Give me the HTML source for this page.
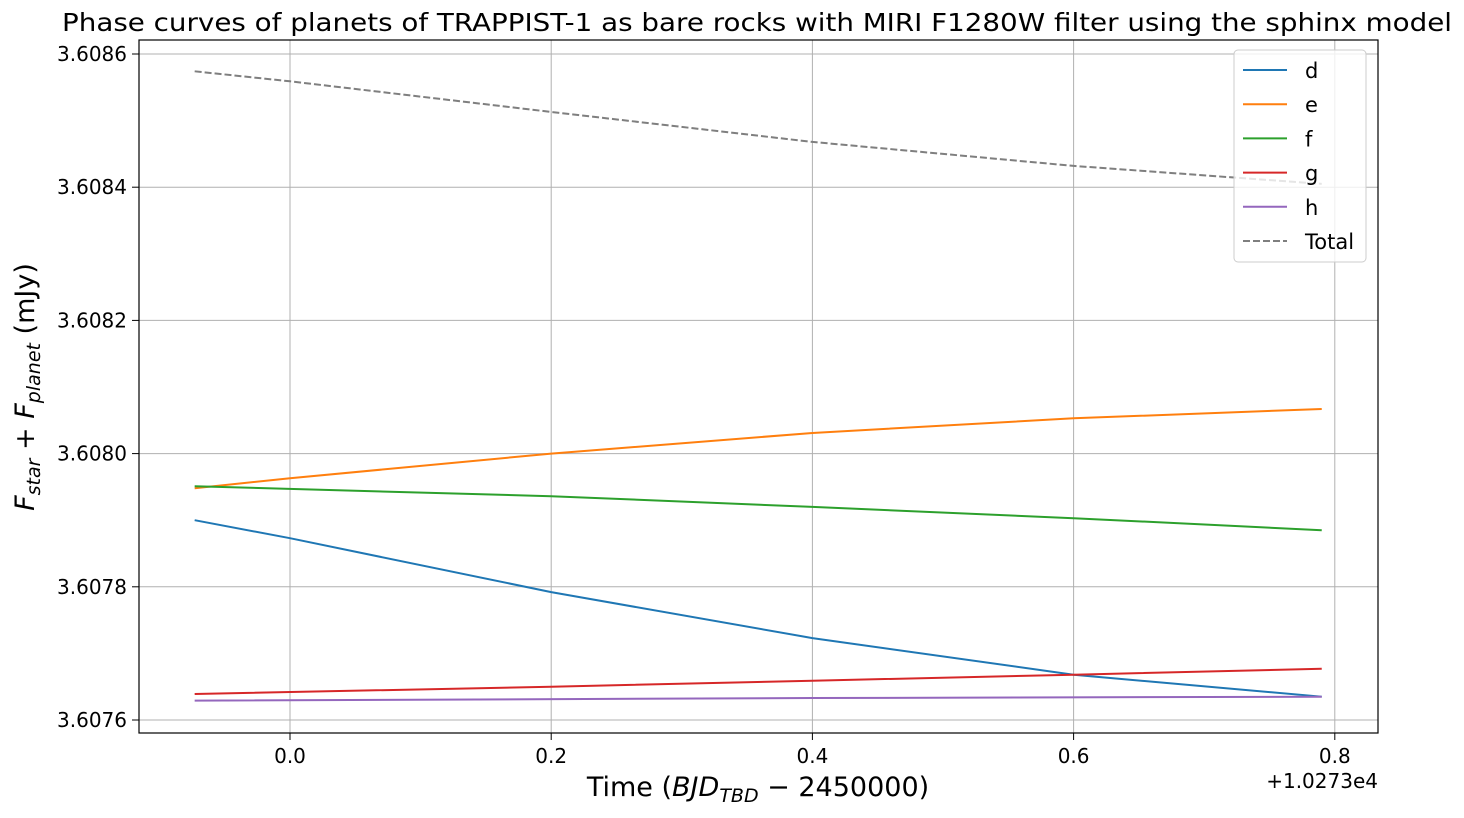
<!DOCTYPE html>
<html><head><meta charset="utf-8"><style>
body{margin:0;background:#fff;}
svg{font-family:"DejaVu Sans","Liberation Sans",sans-serif;}
</style></head><body>
<svg id="chart" width="1464" height="813">
<text x="62" y="31" font-size="25" textLength="1390" lengthAdjust="spacingAndGlyphs">Phase curves of planets of TRAPPIST-1 as bare rocks with MIRI F1280W filter using the sphinx model</text>
<g id="grid"></g><g id="series"></g>
<rect x="139" y="40" width="1239" height="693" fill="none" stroke="#000" stroke-width="1.2"/>
<g id="ticks"></g>
<text x="758" y="796" font-size="27" text-anchor="middle">Time (<tspan font-style="italic">BJD</tspan><tspan font-style="italic" font-size="19" dy="6">TBD</tspan><tspan dy="-6"> − 2450000)</tspan></text>
<text x="1378" y="788" font-size="20" text-anchor="end">+1.0273e4</text>
<text transform="translate(34,387) rotate(-90)" font-size="27" text-anchor="middle"><tspan font-style="italic">F</tspan><tspan font-style="italic" font-size="19" dy="6">star</tspan><tspan dy="-6"> + </tspan><tspan font-style="italic">F</tspan><tspan font-style="italic" font-size="19" dy="6">planet</tspan><tspan dy="-6"> (mJy)</tspan></text>
<g id="legend"></g>
</svg>
<script>
const xTicks=[0.0,0.2,0.4,0.6,0.8];
const xTickLabels=["0.0","0.2","0.4","0.6","0.8"];
const yTicks=[3.6076,3.6078,3.6080,3.6082,3.6084,3.6086];
const yTickLabels=["3.6076","3.6078","3.6080","3.6082","3.6084","3.6086"];
const seriesNames=["d","e","f","g","h","Total"];
const seriesColors=["#1f77b4","#ff7f0e","#2ca02c","#d62728","#9467bd","#7f7f7f"];
const tD=[-0.073,0.0,0.2,0.4,0.6,0.79];
const vD=[3.607900,3.607873,3.607792,3.607723,3.607668,3.607635];
const tE=[-0.073,0.0,0.2,0.4,0.6,0.79];
const vE=[3.607948,3.607963,3.608000,3.608031,3.608053,3.608067];
const tF=[-0.073,0.2,0.4,0.6,0.79];
const vF=[3.607951,3.607936,3.607920,3.607903,3.607885];
const tG=[-0.073,0.2,0.4,0.6,0.79];
const vG=[3.607639,3.607650,3.607659,3.607668,3.607677];
const tH=[-0.073,0.4,0.79];
const vH=[3.607629,3.607633,3.607635];
const tT=[-0.073,0.0,0.2,0.4,0.6,0.79];
const vT=[3.608574,3.608559,3.608513,3.608468,3.608432,3.608405];
const NS="http://www.w3.org/2000/svg";
function X(t){return 290+t*1306;}
function Y(v){return 720-(v-3.6076)/0.0002*133.2;}
function mk(tag,attrs,parent){const e=document.createElementNS(NS,tag);for(const k in attrs)e.setAttribute(k,attrs[k]);parent.appendChild(e);return e;}
const grid=document.getElementById('grid'),ticks=document.getElementById('ticks'),ser=document.getElementById('series'),leg=document.getElementById('legend');
xTicks.forEach((t,i)=>{
 const g=mk('line',{x1:X(t),x2:X(t),y1:40,y2:733,stroke:'#b0b0b0','stroke-width':1},grid);
 
 
 mk('line',{x1:X(t),x2:X(t),y1:733,y2:740,stroke:'#000'},ticks);
 const l=mk('text',{x:X(t),y:763,'font-size':20,'text-anchor':'middle'},ticks);l.textContent=xTickLabels[i];
 
 
});
yTicks.forEach((v,i)=>{
 const g=mk('line',{x1:139,x2:1378,y1:Y(v),y2:Y(v),stroke:'#b0b0b0','stroke-width':1},grid);
 
 
 mk('line',{x1:132,x2:139,y1:Y(v),y2:Y(v),stroke:'#000'},ticks);
 const l=mk('text',{x:127,y:Y(v)+7,'font-size':20,'text-anchor':'end'},ticks);l.textContent=yTickLabels[i];
 
 
});
const data=[[tD,vD],[tE,vE],[tF,vF],[tG,vG],[tH,vH],[tT,vT]];
data.forEach((d,i)=>{
 const pts=d[0].map((t,j)=>X(t)+','+Y(d[1][j])).join(' ');
 const p=mk('polyline',{points:pts,fill:'none',stroke:seriesColors[i],'stroke-width':2,'stroke-dasharray':i==5?'7,3':'none'},ser);
 
 
});
const box=mk('rect',{x:1234,y:50,width:132,height:212,rx:4,fill:'#fff','fill-opacity':0.8,stroke:'#ccc'},leg);


seriesNames.forEach((n,i)=>{
 const y=70+i*34.2;
 const g=mk('g',{},leg);
 
 
 mk('line',{x1:1243,x2:1287,y1:y,y2:y,stroke:seriesColors[i],'stroke-width':2,'stroke-dasharray':i==5?'7,3':'none'},g);
 const t=mk('text',{x:1305,y:y+8,'font-size':21},g);t.textContent=n;
});
</script>
</body></html>
